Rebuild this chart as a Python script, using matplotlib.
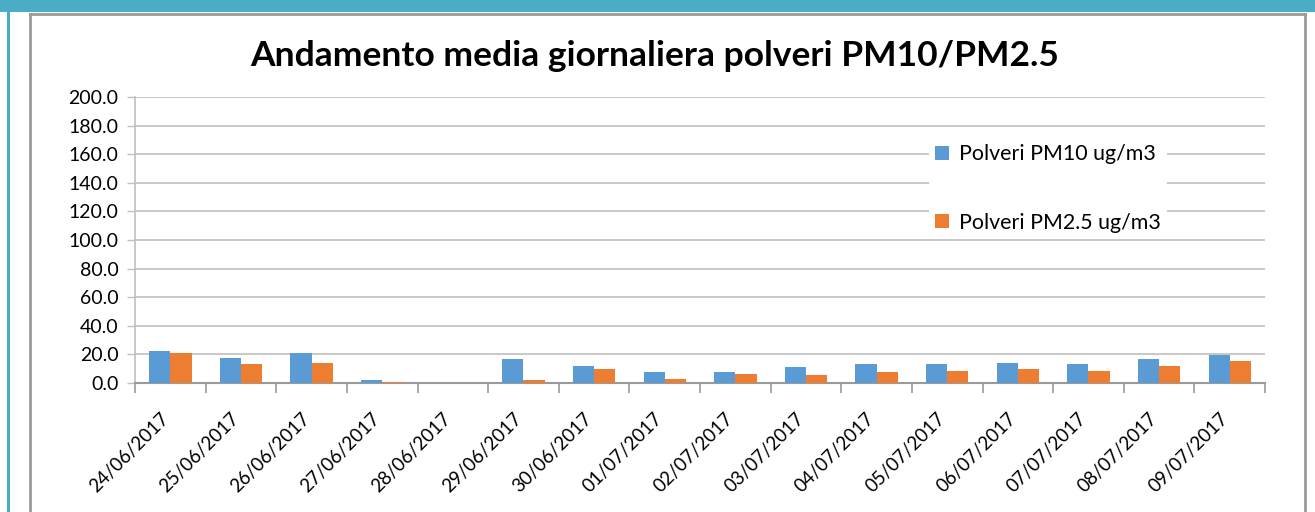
import matplotlib
matplotlib.use("Agg")
import matplotlib.pyplot as plt
from matplotlib.patches import Rectangle
from matplotlib.lines import Line2D
import numpy as np

dates = ["24/06/2017", "25/06/2017", "26/06/2017", "27/06/2017", "28/06/2017",
         "29/06/2017", "30/06/2017", "01/07/2017", "02/07/2017", "03/07/2017",
         "04/07/2017", "05/07/2017", "06/07/2017", "07/07/2017", "08/07/2017",
         "09/07/2017"]
pm10 = [22.4, 17.5, 21.0, 2.1, 0.0, 16.8, 11.9, 7.7, 7.7, 11.2,
        13.3, 13.3, 14.0, 13.3, 16.8, 19.6]
pm25 = [21.0, 13.3, 14.0, 0.7, 0.0, 2.1, 9.8, 2.8, 6.3, 5.6,
        7.7, 8.4, 9.8, 8.4, 11.9, 15.4]
series_names = ["Polveri PM10 ug/m3", "Polveri PM2.5 ug/m3"]
title = "Andamento media giornaliera polveri PM10/PM2.5"
yticks = [0, 20, 40, 60, 80, 100, 120, 140, 160, 180, 200]

W, H = 1315, 512
fig = plt.figure(figsize=(W / 100, H / 100), dpi=100)
fig.patch.set_facecolor("white")
plt.rcParams["font.family"] = ["Lato", "DejaVu Sans"]

def fx(px):
    return px / W

def fy(py):
    return 1 - py / H

# decorative frame
fig.patches.append(Rectangle((0, fy(12)), 1, 12 / H, transform=fig.transFigure,
                             facecolor="#4BACC6", edgecolor="none", zorder=0))
fig.patches.append(Rectangle((fx(7), 0), 3 / W, fy(12), transform=fig.transFigure,
                             facecolor="#4BACC6", edgecolor="none", zorder=0))
frame_c = "#9A9A9A"
fig.lines.append(Line2D([fx(30), fx(30)], [0, fy(14)], transform=fig.transFigure,
                        color=frame_c, lw=2))
fig.lines.append(Line2D([fx(30), fx(1305)], [fy(14), fy(14)], transform=fig.transFigure,
                        color=frame_c, lw=2))
fig.lines.append(Line2D([fx(1305), fx(1305)], [0, fy(14)], transform=fig.transFigure,
                        color=frame_c, lw=2))

ax = fig.add_axes([fx(135), fy(383), fx(1265) - fx(135), fy(97) - fy(383)])
x = np.arange(len(dates))
bw = 0.3
ax.bar(x - bw / 2, pm10, width=bw, color="#5B9BD5", label=series_names[0], zorder=3)
ax.bar(x + bw / 2, pm25, width=bw, color="#ED7D31", label=series_names[1], zorder=3)

ax.set_xlim(-0.5, len(dates) - 0.5)
ax.set_ylim(0, 200)
ax.set_yticks(yticks)
ax.set_yticklabels([f"{v:.1f}" for v in yticks], fontsize=14)
ax.yaxis.grid(True, color="#BFBFBF", lw=1.2, zorder=0)
ax.tick_params(axis="y", length=6, width=1, color="#BFBFBF", pad=6)

ax.set_xticks(np.arange(-0.5, len(dates), 1.0))
ax.set_xticklabels([])
ax.tick_params(axis="x", length=7, width=1.2, color="#9A9A9A", direction="out")
for i, d in enumerate(dates):
    ax.text(i - 0.15, -19, d, rotation=45, ha="right", va="top", rotation_mode="anchor",
            fontsize=13.5, transform=ax.transData)

for s in ["top", "right"]:
    ax.spines[s].set_visible(False)
ax.spines["left"].set_color("#BFBFBF")
ax.spines["left"].set_linewidth(1.2)
ax.spines["bottom"].set_color("#9A9A9A")
ax.spines["bottom"].set_linewidth(1.5)

leg = ax.legend(loc="upper left", bbox_to_anchor=((929 - 135) / 1130, (383 - 138) / 286),
                frameon=True, fancybox=False, framealpha=1, facecolor="white",
                edgecolor="none", fontsize=15.4, handlelength=0.65, handleheight=0.65,
                handletextpad=0.45, labelspacing=2.25, borderpad=0.3, borderaxespad=0)
leg.set_zorder(5)

fig.text(fx(655), fy(56), title, ha="center", va="center", fontsize=25.5,
         fontweight="bold")

fig.savefig("out.png", dpi=100)
